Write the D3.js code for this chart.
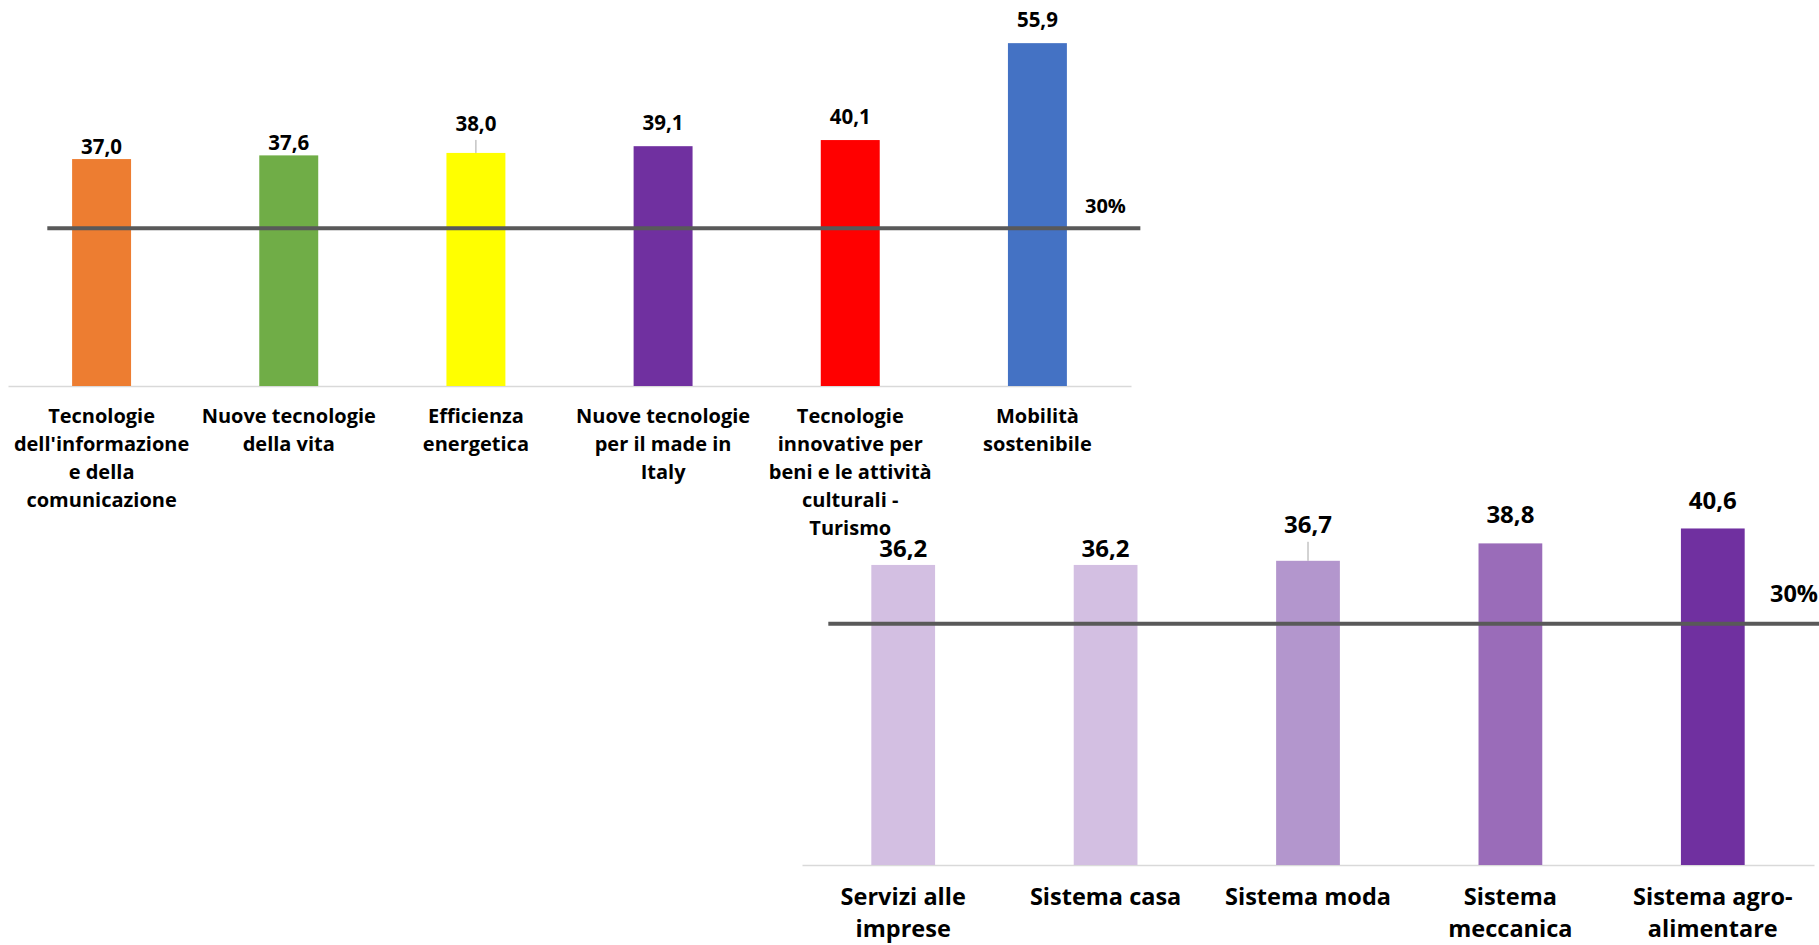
<!DOCTYPE html>
<html>
<head>
<meta charset="utf-8">
<script src="https://cdn.jsdelivr.net/npm/d3@7"></script>
<style>
    body { margin: 0; background: #fff; }
    text { font-family: "Open Sans", sans-serif; font-weight: bold; fill: #000; }
</style>
</head>
<body>
<script>
// data
var topCategories = [
    "Tecnologie\ndell'informazione\ne della\ncomunicazione",
    "Nuove tecnologie\ndella vita",
    "Efficienza\nenergetica",
    "Nuove tecnologie\nper il made in\nItaly",
    "Tecnologie\ninnovative per\nbeni e le attività\nculturali -\nTurismo",
    "Mobilità\nsostenibile"
];
var topValues = [37.0, 37.6, 38.0, 39.1, 40.1, 55.9];
var topColors = ["#ED7D31", "#70AD47", "#FFFF00", "#7030A0", "#FF0000", "#4472C4"];

var bottomCategories = [
    "Servizi alle\nimprese",
    "Sistema casa",
    "Sistema moda",
    "Sistema\nmeccanica",
    "Sistema agro-\nalimentare"
];
var bottomValues = [36.2, 36.2, 36.7, 38.8, 40.6];
var bottomColors = ["#D3BFE2", "#D3BFE2", "#B396CD", "#9A6CB9", "#7030A0"];

var thresholdValue = 30;
var thresholdLabel = "30%";

var svg = d3.select("body").append("svg")
    .attr("width", 1819)
    .attr("height", 945);

var fmt = function(v) { return d3.format(".1f")(v).replace(".", ","); };

function drawPanel(p) {
    var x = d3.scaleBand()
        .domain(p.categories)
        .range([p.left, p.right])
        .paddingInner(0.685)
        .paddingOuter(0.3425);

    var y = d3.scaleLinear().domain([0, p.yMax]).range([p.bottom, p.top]);
    // the 30% line sits on a secondary axis
    var y2 = d3.scaleLinear().domain([0, p.y2Max]).range([p.bottom, p.top]);

    var color = d3.scaleOrdinal().domain(p.categories).range(p.colors);

    var g = svg.append("g");

    // axis with multi line labels
    var axis = g.append("g")
        .attr("transform", "translate(0," + p.bottom + ")")
        .call(d3.axisBottom(x).tickSize(0).tickSizeOuter(0));
    axis.select(".domain").attr("stroke", "#D9D9D9").attr("stroke-width", 1.5);
    axis.selectAll(".tick text").each(function(d) {
        var t = d3.select(this)
            .attr("y", 0).attr("dy", null)
            .attr("font-size", p.fontSize)
            .attr("font-family", null)
            .text(null);
        d.split("\n").forEach(function(line, i) {
            t.append("tspan")
                .attr("x", 0)
                .attr("y", p.labelTop + i * p.lineHeight)
                .text(line);
        });
    });

    var data = p.categories.map(function(c, i) { return {cat: c, value: p.values[i], i: i}; });

    g.selectAll("rect.bar")
        .data(data)
        .enter().append("rect")
        .attr("class", "bar")
        .attr("x", function(d) { return x(d.cat); })
        .attr("width", x.bandwidth())
        .attr("y", function(d) { return y(d.value); })
        .attr("height", function(d) { return y(0) - y(d.value); })
        .attr("fill", function(d) { return color(d.cat); });

    // threshold line
    var step = x.step();
    g.append("line")
        .attr("x1", p.left + p.lineStart * step)
        .attr("x2", p.right + 0.05 * step)
        .attr("y1", y2(thresholdValue))
        .attr("y2", y2(thresholdValue))
        .attr("stroke", "#595959")
        .attr("stroke-width", 4);

    g.append("text")
        .attr("x", p.right + p.thrDx)
        .attr("y", y2(thresholdValue) - p.thrDy)
        .attr("font-size", p.fontSize)
        .text(thresholdLabel);

    // leader lines for labels pulled up
    g.selectAll("line.leader")
        .data(data.filter(function(d) { return p.leaders.indexOf(d.i) >= 0; }))
        .enter().append("line")
        .attr("class", "leader")
        .attr("x1", function(d) { return x(d.cat) + x.bandwidth() / 2; })
        .attr("x2", function(d) { return x(d.cat) + x.bandwidth() / 2; })
        .attr("y1", function(d) { return y(d.value) - p.gaps[d.i] + 9; })
        .attr("y2", function(d) { return y(d.value); })
        .attr("stroke", "#A6A6A6")
        .attr("stroke-width", 1);

    g.selectAll("text.val")
        .data(data)
        .enter().append("text")
        .attr("class", "val")
        .attr("x", function(d) { return x(d.cat) + x.bandwidth() / 2; })
        .attr("y", function(d) { return y(d.value) - p.gaps[d.i]; })
        .attr("text-anchor", "middle")
        .attr("font-size", p.valueSize)
        .text(function(d) { return fmt(d.value); });
}

drawPanel({
    categories: topCategories, values: topValues, colors: topColors,
    left: 8, right: 1131, top: 18, bottom: 386,
    yMax: 60, y2Max: 70,
    fontSize: 20, valueSize: 20.5, labelTop: 37, lineHeight: 28,
    gaps: [5, 5, 22, 16, 16, 16], leaders: [2],
    lineStart: 0.21, thrDx: -46, thrDy: 15
});

drawPanel({
    categories: bottomCategories, values: bottomValues, colors: bottomColors,
    left: 802, right: 1814, top: 492, bottom: 865,
    yMax: 45, y2Max: 46.4,
    fontSize: 23.5, valueSize: 24, labelTop: 40, lineHeight: 32,
    gaps: [8, 8, 28, 20, 19], leaders: [2],
    lineStart: 0.13, thrDx: -44, thrDy: 22
});
</script>
</body>
</html>
